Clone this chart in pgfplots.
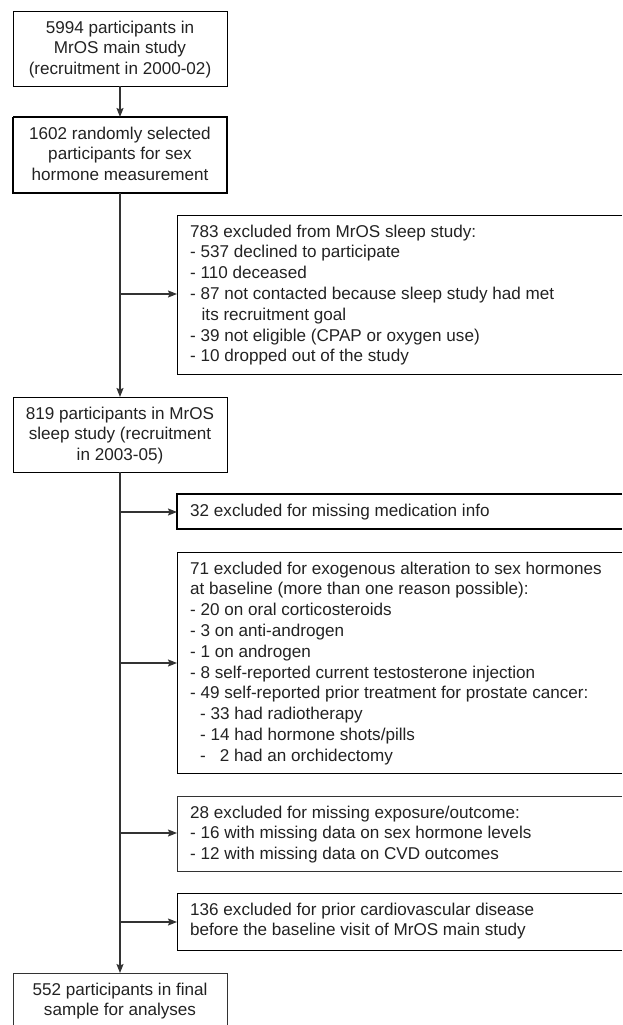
\documentclass[border=0pt]{standalone}
\usepackage{fontspec}
\setmainfont{Liberation Sans}
\usepackage{pgfplots}
\pgfplotsset{compat=1.18}
\usetikzlibrary{arrows.meta}
\definecolor{ln}{HTML}{333333}
\definecolor{tx}{HTML}{222222}
\newcommand{\fs}{\fontsize{17.1}{20.8}\selectfont}
\begin{document}
\begin{tikzpicture}[
  box/.style={inner sep=0pt, font=\fs, text=tx},
]
\begin{axis}[
  width=622pt, height=1025pt, scale only axis,
  xmin=0, xmax=622, ymin=0, ymax=1025, y dir=reverse,
  hide axis, clip=true,
  cycle list={{draw=ln, solid, line width=1.1pt, mark=none}},
  arr/.style={draw=ln, solid, line width=1.1pt, mark=none,
    -{Stealth[length=9pt,width=7pt,inset=1.5pt]}},
]
% keeps the page the size of the axis
\addplot[draw=none, mark=none] coordinates {(0,0) (622,1025)};
% left column boxes
\addplot coordinates {(13,11) (227,11) (227,86) (13,86) (13,11)};
\addplot coordinates {(13,117) (227,117) (227,193) (13,193) (13,117)};
\addplot coordinates {(13,397) (227,397) (227,472) (13,472) (13,397)};
\addplot coordinates {(13,1025) (13,973) (227,973) (227,1025)};
% right column boxes (run to the right edge)
\addplot coordinates {(622,215) (177,215) (177,374) (622,374)};
\addplot coordinates {(622,494) (177,494) (177,529) (622,529)};
\addplot coordinates {(622,552) (177,552) (177,773) (622,773)};
\addplot coordinates {(622,796) (177,796) (177,871) (622,871)};
\addplot coordinates {(622,893) (177,893) (177,950) (622,950)};
% trunk and arrows
\addplot[arr] coordinates {(120,86) (120,117)};
\addplot[arr] coordinates {(120,193) (120,397)};
\addplot[arr] coordinates {(120,472) (120,973)};
\addplot[arr] coordinates {(120,294) (177,294)};
\addplot[arr] coordinates {(120,512) (177,512)};
\addplot[arr] coordinates {(120,663) (177,663)};
\addplot[arr] coordinates {(120,833) (177,833)};
\addplot[arr] coordinates {(120,922) (177,922)};
% texts
\node[box, anchor=north, align=center] at (axis cs:120,18.4)
  {\strut 5994 participants in\\MrOS main study\\(recruitment in 2000-02)};
\node[box, anchor=north, align=center] at (axis cs:120,124.4)
  {\strut 1602 randomly selected\\participants for sex\\hormone measurement};
\node[box, anchor=north, align=center] at (axis cs:120,404.4)
  {\strut 819 participants in MrOS\\sleep study (recruitment\\in 2003-05)};
\node[box, anchor=north, align=center] at (axis cs:120,980.4)
  {\strut 552 participants in final\\sample for analyses};
\node[box, anchor=north west, align=left] at (axis cs:190,222.4)
  {\strut 783 excluded from MrOS sleep study:\\
   - 537 declined to participate\\
   - 110 deceased\\
   - 87 not contacted because sleep study had met\\
   \hspace*{11.5pt}its recruitment goal\\
   - 39 not eligible (CPAP or oxygen use)\\
   - 10 dropped out of the study};
\node[box, anchor=north west, align=left] at (axis cs:190,501.4)
  {\strut 32 excluded for missing medication info};
\node[box, anchor=north west, align=left] at (axis cs:190,559.4)
  {\strut 71 excluded for exogenous alteration to sex hormones\\
   at baseline (more than one reason possible):\\
   - 20 on oral corticosteroids\\
   - 3 on anti-androgen\\
   - 1 on androgen\\
   - 8 self-reported current testosterone injection\\
   - 49 self-reported prior treatment for prostate cancer:\\
   \hspace*{10pt}- 33 had radiotherapy\\
   \hspace*{10pt}- 14 had hormone shots/pills\\
   \hspace*{10pt}-\hspace*{14pt}2 had an orchidectomy};
\node[box, anchor=north west, align=left] at (axis cs:190,803.4)
  {\strut 28 excluded for missing exposure/outcome:\\
   - 16 with missing data on sex hormone levels\\
   - 12 with missing data on CVD outcomes};
\node[box, anchor=north west, align=left] at (axis cs:190,900.4)
  {\strut 136 excluded for prior cardiovascular disease\\
   before the baseline visit of MrOS main study};
\end{axis}
\end{tikzpicture}
\end{document}
